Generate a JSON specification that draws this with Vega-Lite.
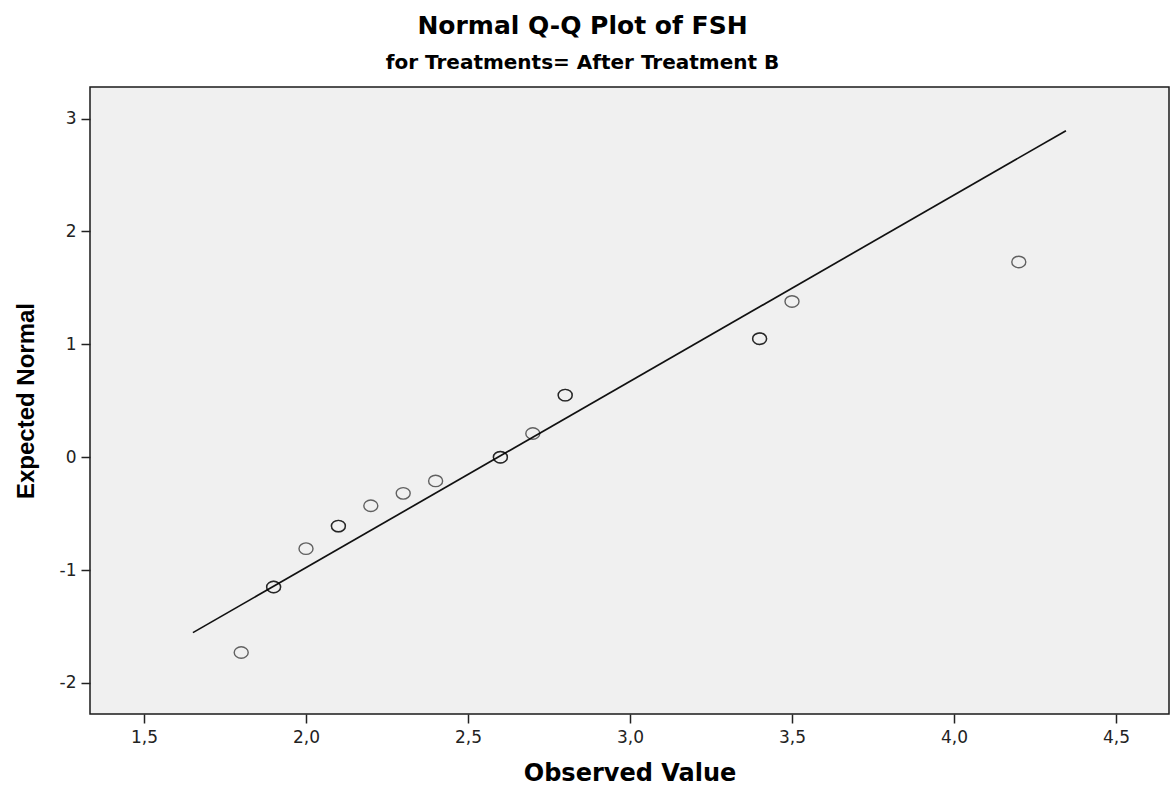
{
  "$schema": "https://vega.github.io/schema/vega-lite/v6.json",
  "width": 1079,
  "height": 627,
  "autosize": {"type": "none"},
  "padding": {"left": 90, "top": 87, "right": 2, "bottom": 80},
  "background": "white",
  "title": {
    "text": "Normal Q-Q Plot of FSH",
    "subtitle": "for Treatments= After Treatment B",
    "anchor": "middle",
    "dx": -47,
    "font": "DejaVu Sans",
    "fontSize": 25,
    "fontWeight": "bold",
    "color": "#000",
    "subtitleFont": "DejaVu Sans",
    "subtitleFontSize": 20,
    "subtitleFontWeight": "bold",
    "subtitleColor": "#000",
    "subtitlePadding": 14,
    "offset": 14
  },
  "datasets": {
    "points": [
      {"observed": 1.8, "expected": -1.73},
      {"observed": 1.9, "expected": -1.15},
      {"observed": 1.9, "expected": -1.15},
      {"observed": 2.0, "expected": -0.81},
      {"observed": 2.1, "expected": -0.61},
      {"observed": 2.1, "expected": -0.61},
      {"observed": 2.2, "expected": -0.43},
      {"observed": 2.3, "expected": -0.32},
      {"observed": 2.4, "expected": -0.21},
      {"observed": 2.6, "expected": 0.0},
      {"observed": 2.6, "expected": 0.0},
      {"observed": 2.7, "expected": 0.21},
      {"observed": 2.8, "expected": 0.55},
      {"observed": 2.8, "expected": 0.55},
      {"observed": 3.4, "expected": 1.05},
      {"observed": 3.4, "expected": 1.05},
      {"observed": 3.5, "expected": 1.38},
      {"observed": 4.2, "expected": 1.73}
    ],
    "refline": [
      {"observed": 1.651, "expected": -1.554},
      {"observed": 4.3455, "expected": 2.893}
    ]
  },
  "config": {
    "view": {"fill": "#f0f0f0", "stroke": "#1a1a1a", "strokeWidth": 1.5},
    "axis": {
      "domain": false,
      "grid": false,
      "ticks": true,
      "tickColor": "#222",
      "tickWidth": 1.5,
      "tickSize": 9,
      "labelFont": "DejaVu Sans",
      "labelFontSize": 17,
      "labelColor": "#222",
      "titleFont": "DejaVu Sans",
      "titleFontWeight": "bold",
      "titleColor": "#000"
    }
  },
  "layer": [
    {
      "data": {"name": "refline"},
      "mark": {"type": "line", "color": "#111", "strokeWidth": 1.7},
      "encoding": {
        "x": {"field": "observed", "type": "quantitative"},
        "y": {"field": "expected", "type": "quantitative"}
      }
    },
    {
      "data": {"name": "points"},
      "mark": {
        "type": "point",
        "shape": "M-1,0A1,0.82,0,1,0,1,0A1,0.82,0,1,0,-1,0Z",
        "size": 196,
        "filled": false,
        "stroke": "#000",
        "strokeWidth": 1.4,
        "strokeOpacity": 0.6,
        "opacity": 1
      },
      "encoding": {
        "x": {
          "field": "observed",
          "type": "quantitative",
          "scale": {"domain": [1.3333, 4.6636], "nice": false, "zero": false},
          "axis": {
            "title": "Observed Value",
            "titleFontSize": 24,
            "titlePadding": 16,
            "values": [1.5, 2.0, 2.5, 3.0, 3.5, 4.0, 4.5],
            "labelExpr": "replace(format(datum.value, '.1f'), '.', ',')",
            "labelPadding": 6
          }
        },
        "y": {
          "field": "expected",
          "type": "quantitative",
          "scale": {"domain": [-2.275, 3.28], "nice": false, "zero": false},
          "axis": {
            "title": "Expected Normal",
            "titleFont": "Liberation Sans",
            "titleFontSize": 24,
            "titlePadding": 21,
            "values": [-2, -1, 0, 1, 2, 3],
            "labelExpr": "'' + datum.value",
            "labelPadding": 5
          }
        }
      }
    }
  ]
}
